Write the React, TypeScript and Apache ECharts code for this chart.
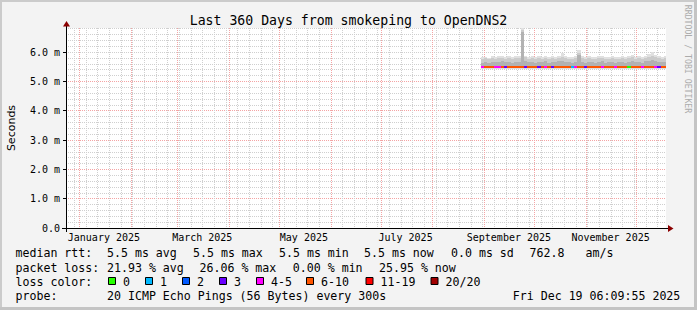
import React, { useEffect, useRef } from 'react';
import * as echarts from 'echarts';

const TITLE = 'Last 360 Days from smokeping to OpenDNS2';
const Y_AXIS_NAME = 'Seconds';
const WATERMARK = 'RRDTOOL / TOBI OETIKER';

const Y_MAX = 6.82;
const Y_TICKS = [0, 1, 2, 3, 4, 5, 6];
const Y_TICK_LABELS = ['0.0', '1.0 m', '2.0 m', '3.0 m', '4.0 m', '5.0 m', '6.0 m'];

const X_LABEL_MONTHS = [0, 2, 4, 6, 8, 10];
const X_TICK_LABELS = ['January 2025', 'March 2025', 'May 2025', 'July 2025', 'September 2025', 'November 2025'];

// 2-day bins starting 2025-08-30
const minVals = [5.43, 5.42, 5.43, 5.42, 5.43, 5.42, 5.42, 5.43, 5.42, 5.43, 5.42, 5.42, 5.41, 5.42, 5.43, 5.42, 5.43, 5.42, 5.42, 5.43, 5.42, 5.42, 5.43, 5.42, 5.42, 5.43, 5.42, 5.43, 5.42, 5.42, 5.43, 5.42, 5.42, 5.43, 5.42, 5.42, 5.43, 5.42, 5.42, 5.43, 5.42, 5.42, 5.43, 5.42, 5.42, 5.43, 5.42, 5.42, 5.43, 5.42, 5.42, 5.43, 5.42, 5.42, 5.43, 5.42];
const innerHiVals = [5.64, 5.66, 5.63, 5.67, 5.65, 5.66, 5.68, 5.65, 5.67, 5.64, 5.67, 5.66, 6.70, 5.70, 5.65, 5.67, 5.64, 5.66, 5.65, 5.68, 5.64, 5.67, 5.65, 5.68, 5.70, 5.66, 5.65, 5.64, 5.67, 5.90, 5.66, 5.64, 5.67, 5.65, 5.64, 5.66, 5.68, 5.64, 5.65, 5.67, 5.64, 5.65, 5.66, 5.64, 5.67, 5.70, 5.65, 5.67, 5.64, 5.68, 5.70, 5.72, 5.69, 5.67, 5.65, 5.66];
const midHiVals = [5.76, 5.78, 5.75, 5.79, 5.77, 5.78, 5.80, 5.77, 5.79, 5.76, 5.80, 5.78, 6.76, 5.82, 5.77, 5.79, 5.75, 5.78, 5.77, 5.80, 5.76, 5.79, 5.77, 5.81, 5.84, 5.79, 5.77, 5.75, 5.79, 5.98, 5.78, 5.76, 5.79, 5.77, 5.75, 5.78, 5.80, 5.76, 5.77, 5.79, 5.75, 5.77, 5.78, 5.76, 5.79, 5.82, 5.77, 5.79, 5.76, 5.81, 5.83, 5.86, 5.82, 5.79, 5.77, 5.78];
const maxVals = [5.82, 5.84, 5.80, 5.86, 5.83, 5.85, 5.88, 5.84, 5.86, 5.83, 5.87, 5.85, 6.82, 5.88, 5.84, 5.86, 5.82, 5.85, 5.84, 5.87, 5.83, 5.86, 5.84, 5.88, 5.97, 5.86, 5.84, 5.82, 5.86, 6.08, 5.85, 5.83, 5.86, 5.84, 5.82, 5.85, 5.87, 5.83, 5.84, 5.86, 5.82, 5.84, 5.85, 5.83, 5.86, 5.90, 5.84, 5.86, 5.83, 5.88, 5.92, 6.00, 5.90, 5.86, 5.84, 5.85];
const medianVals = [5.49, 5.49, 5.49, 5.49, 5.49, 5.49, 5.49, 5.49, 5.49, 5.49, 5.49, 5.49, 5.49, 5.49, 5.49, 5.49, 5.49, 5.49, 5.49, 5.49, 5.49, 5.49, 5.49, 5.49, 5.49, 5.49, 5.49, 5.49, 5.49, 5.49, 5.49, 5.49, 5.49, 5.49, 5.49, 5.49, 5.49, 5.49, 5.49, 5.49, 5.49, 5.49, 5.49, 5.49, 5.49, 5.49, 5.49, 5.49, 5.49, 5.49, 5.49, 5.49, 5.49, 5.49, 5.49, 5.49];
const lostPings = [4, 8, 8, 8, 4, 4, 8, 3, 8, 8, 8, 8, 8, 3, 8, 8, 8, 3, 8, 4, 8, 3, 8, 8, 8, 8, 8, 1, 4, 8, 8, 3, 8, 8, 8, 8, 4, 8, 8, 8, 4, 8, 8, 8, 0, 8, 8, 8, 4, 8, 8, 8, 4, 3, 8, 8];

const LOSS_LABELS = ['0', '1', '2', '3', '4-5', '6-10', '11-19', '20/20'];
const LOSS_LOWER = [0, 1, 2, 3, 4, 6, 11, 20];
const LOSS_COLORS = ['#26ff00', '#00b8ff', '#0059ff', '#6a00ff', '#ff00ff', '#ff5500', '#ff0000', '#a10000'];

const RTT_STATS = ['5.5 ms avg', '5.5 ms max', '5.5 ms min', '5.5 ms now', '0.0 ms sd', '762.8', 'am/s'];
const LOSS_STATS = ['21.93 % avg', '26.06 % max', '0.00 % min', '25.95 % now'];
const PROBE_TEXT = '20 ICMP Echo Pings (56 Bytes) every 300s';
const TIMESTAMP = 'Fri Dec 19 06:09:55 2025';

const MONO = 'DejaVu Sans Mono';
const MINOR_GRID = '#cfcfcf';
const MAJOR_GRID = '#f4a4a4';

function lossIndex(n: number) {
  let idx = 0;
  for (let i = 0; i < LOSS_LOWER.length; i++) if (n >= LOSS_LOWER[i]) idx = i;
  return idx;
}

export default function App() {
  const ref = useRef<HTMLDivElement>(null);
  useEffect(() => {
    if (!ref.current) return;
    const chart = echarts.init(ref.current, null, { renderer: 'svg' });

    const START = new Date(2024, 11, 24, 6, 9, 55).getTime();
    const END = new Date(2025, 11, 19, 6, 9, 55).getTime();

    // vertical grid: weekly (Sundays) minor, monthly major
    const gridData: number[][] = [];
    for (let d = 0; ; d += 7) {
      const t = new Date(2024, 11, 29 + d).getTime();
      if (t > END) break;
      gridData.push([t, 0]);
    }
    for (let m = 0; m < 12; m++) gridData.push([new Date(2025, m, 1).getTime(), 1]);
    const labelValues = X_LABEL_MONTHS.map((m) => new Date(2025, m, 16).getTime());

    const smokeData = minVals.map((v, i) => [
      new Date(2025, 7, 30 + 2 * i).getTime(),
      new Date(2025, 7, 32 + 2 * i).getTime(),
      v,
      innerHiVals[i],
      midHiVals[i],
      maxVals[i],
      medianVals[i],
      lossIndex(lostPings[i]),
    ]);

    const rowY = [253, 267.5, 281.5, 295.5];
    const textEl = (x: number, y: number, text: string) => ({
      type: 'text',
      x,
      y,
      style: { text, fill: '#000', font: `11.6px "${MONO}"`, textVerticalAlign: 'middle', textAlign: 'left' },
      silent: true,
    });

    const rttX = [107, 193, 279, 364, 451, 529.5, 585.5];
    const lossX = [107, 199.5, 292.8, 379];
    const boxX = [108, 145, 182, 219, 256, 306, 365.5, 430.5];

    const graphics: any[] = [
      { type: 'rect', shape: { x: 0, y: 0, width: 697, height: 2 }, style: { fill: '#cbcbcb' }, silent: true },
      { type: 'rect', shape: { x: 0, y: 0, width: 2, height: 310 }, style: { fill: '#cbcbcb' }, silent: true },
      { type: 'rect', shape: { x: 694, y: 0, width: 3, height: 310 }, style: { fill: '#c4c4c4' }, silent: true },
      { type: 'rect', shape: { x: 0, y: 307, width: 697, height: 3 }, style: { fill: '#c4c4c4' }, silent: true },
      {
        type: 'text', x: 688, y: 59, rotation: -Math.PI / 2, silent: true,
        style: { text: WATERMARK, fill: '#ababab', font: `8.2px "${MONO}"`, textAlign: 'center', textVerticalAlign: 'middle' },
      },
      { type: 'line', shape: { x1: 62, y1: 228.5, x2: 668, y2: 228.5 }, style: { stroke: '#000', lineWidth: 1 }, silent: true, z: 10 },
      { type: 'line', shape: { x1: 66.5, y1: 232, x2: 66.5, y2: 26 }, style: { stroke: '#000', lineWidth: 1 }, silent: true, z: 10 },
      { type: 'polygon', shape: { points: [[63, 26.5], [70, 26.5], [66.5, 21]] }, style: { fill: '#8b0000' }, silent: true, z: 10 },
      { type: 'polygon', shape: { points: [[668, 225], [668, 232], [673.5, 228.5]] }, style: { fill: '#8b0000' }, silent: true, z: 10 },
      textEl(15.5, rowY[0], 'median rtt:'),
      textEl(15.5, rowY[1], 'packet loss:'),
      textEl(15.5, rowY[2], 'loss color:'),
      textEl(15.5, rowY[3], 'probe:'),
      ...RTT_STATS.map((s, i) => textEl(rttX[i], rowY[0], s)),
      ...LOSS_STATS.map((s, i) => textEl(lossX[i], rowY[1], s)),
      textEl(107, rowY[3], PROBE_TEXT),
      textEl(512.8, rowY[3], TIMESTAMP),
      ...LOSS_LABELS.flatMap((lab, i) => [
        {
          type: 'rect', silent: true,
          shape: { x: boxX[i] + 0.5, y: 277.5, width: 7, height: 7 },
          style: { fill: LOSS_COLORS[i], stroke: '#000', lineWidth: 1 },
        },
        textEl(boxX[i] + 15, rowY[2], lab),
      ]),
    ];

    const option: any = {
      animation: false,
      backgroundColor: '#f3f3f3',
      title: {
        text: TITLE,
        left: 'center',
        top: 9,
        textStyle: { fontFamily: MONO, fontSize: 13.2, fontWeight: 'normal', color: '#000' },
      },
      grid: {
        left: 66, top: 28, width: 600, height: 200,
        outerBoundsMode: 'none', containLabel: false,
        show: true, backgroundColor: '#ffffff', borderWidth: 0,
      },
      xAxis: {
        type: 'value',
        min: START,
        max: END,
        axisLine: { show: true, lineStyle: { color: '#000', width: 1 } },
        axisTick: { show: false },
        splitLine: { show: false },
        axisLabel: {
          customValues: labelValues,
          formatter: (v: number) => {
            const i = labelValues.findIndex((t) => Math.abs(t - v) < 3600000);
            return i >= 0 ? X_TICK_LABELS[i] : '';
          },
          fontFamily: MONO,
          fontSize: 10,
          color: '#000',
          margin: 4,
        },
      },
      yAxis: [
        {
          type: 'value', min: 0, max: Y_MAX, interval: 0.2, position: 'left', offset: 0,
          axisLine: { show: false }, axisTick: { show: false }, axisLabel: { show: false },
          splitLine: { show: true, showMaxLine: false, showMinLine: false, lineStyle: { color: MINOR_GRID, width: 1, type: [1, 1] } },
        },
        {
          type: 'value', min: 0, max: Y_MAX, interval: 1, position: 'left', offset: 0,
          name: Y_AXIS_NAME,
          nameLocation: 'middle',
          nameGap: 49,
          nameRotate: 90,
          nameTextStyle: { fontFamily: 'DejaVu Sans', fontSize: 11, color: '#000' },
          axisLine: { show: true, lineStyle: { color: '#000', width: 1 } },
          axisTick: { show: true, customValues: Y_TICKS, length: 3, lineStyle: { color: '#000' } },
          axisLabel: {
            customValues: Y_TICKS,
            formatter: (v: number) => {
              const i = Y_TICKS.findIndex((t) => Math.abs(t - v) < 1e-6);
              return i >= 0 ? Y_TICK_LABELS[i] : '';
            },
            fontFamily: MONO, fontSize: 10, color: '#000', margin: 6,
          },
          splitLine: { show: true, showMaxLine: false, showMinLine: false, lineStyle: { color: MAJOR_GRID, width: 1, type: [1, 1] } },
        },
      ],
      series: [
        {
          type: 'custom',
          name: 'timeGrid',
          z: 1,
          silent: true,
          data: gridData,
          encode: { x: 0, y: -1 },
          renderItem: (params: any, api: any) => {
            const cs = params.coordSys;
            const x = Math.round(api.coord([api.value(0), 0])[0]) + 0.5;
            if (x <= cs.x + 1 || x >= cs.x + cs.width) return null;
            const major = api.value(1) === 1;
            return {
              type: 'line',
              shape: { x1: x, y1: cs.y, x2: x, y2: cs.y + cs.height },
              style: { stroke: major ? MAJOR_GRID : MINOR_GRID, lineWidth: 1, lineDash: [1, 1] },
              z2: major ? 2 : 1,
            };
          },
        },
        {
          type: 'custom',
          name: 'smoke',
          z: 3,
          silent: true,
          data: smokeData,
          encode: { x: [0, 1], y: [2, 5] },
          renderItem: (params: any, api: any) => {
            const cs = params.coordSys;
            const left = cs.x;
            const right = cs.x + cs.width;
            const t0 = api.value(0);
            const t1 = api.value(1);
            const xa = Math.max(left, Math.round(api.coord([t0, 0])[0]));
            const xb = Math.min(right, Math.round(api.coord([t1, 0])[0]));
            if (xb <= xa) return null;
            const w = xb - xa;
            const yOf = (v: number) => api.coord([t0, v])[1];
            const band = (lo: number, hi: number, color: string) => {
              const y1 = Math.round(yOf(hi));
              const y2 = Math.round(yOf(lo));
              return { type: 'rect', shape: { x: xa, y: y1, width: w, height: Math.max(1, y2 - y1) }, style: { fill: color } };
            };
            const med = api.value(6);
            const ym = Math.round(yOf(med));
            return {
              type: 'group',
              children: [
                band(api.value(2), api.value(5), '#e0e0e0'),
                band(med, api.value(4), '#cbcbcb'),
                band(med, api.value(3), '#b2b2b2'),
                { type: 'rect', shape: { x: xa, y: ym - 1, width: w, height: 2 }, style: { fill: LOSS_COLORS[api.value(7)] } },
              ],
            };
          },
        },
      ],
      graphic: graphics,
    };

    chart.setOption(option);
    return () => chart.dispose();
  }, []);

  return <div ref={ref} style={{ position: 'fixed', left: 0, top: 0, width: 697, height: 310 }} />;
}
